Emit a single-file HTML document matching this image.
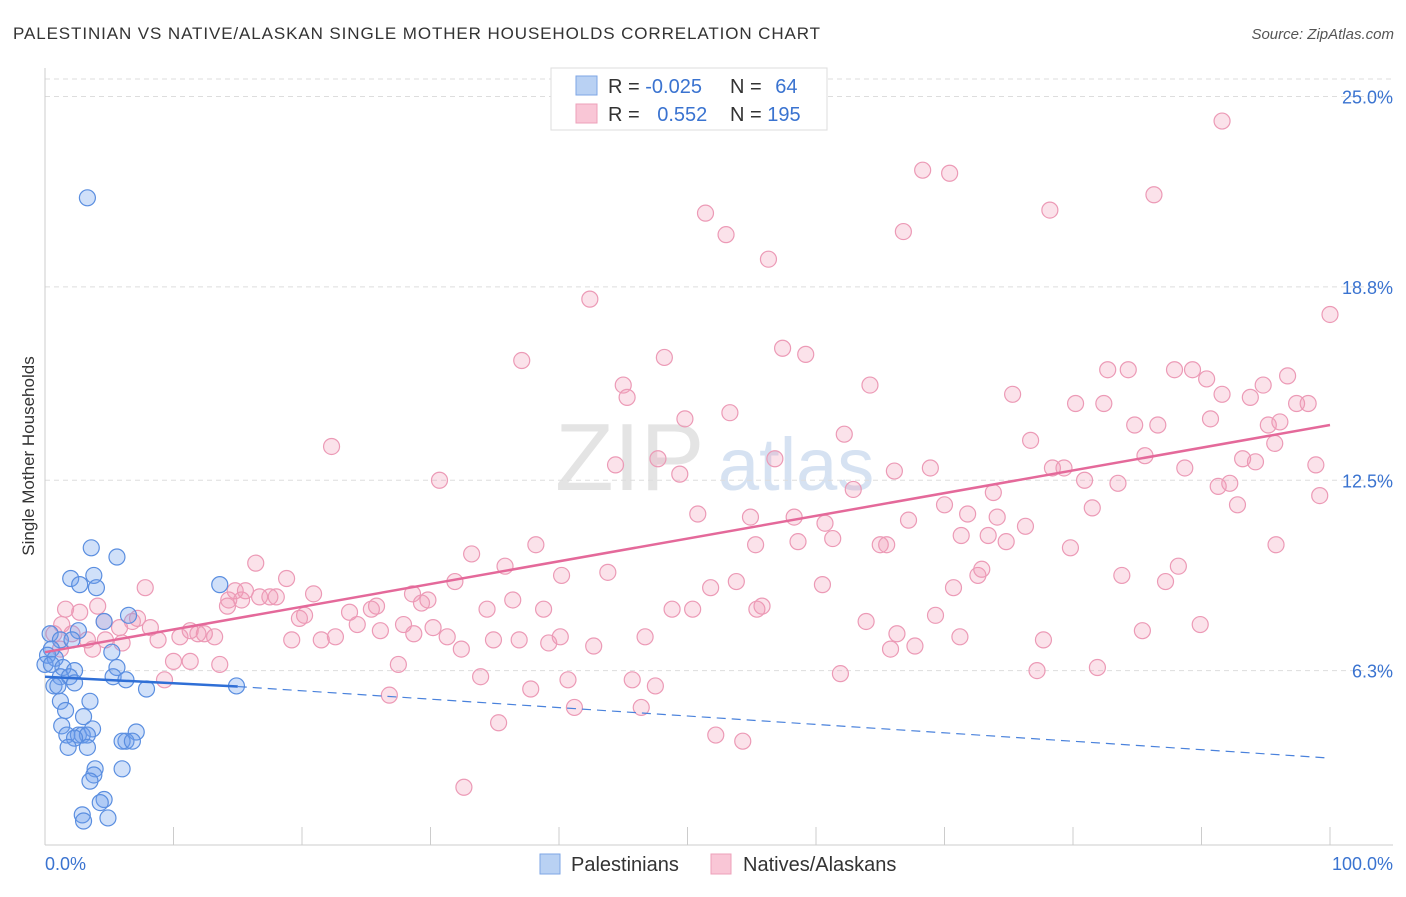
<!DOCTYPE html>
<html><head><meta charset="utf-8"><style>
body{margin:0;background:#fff;font-family:"Liberation Sans",sans-serif;}
svg text{font-family:"Liberation Sans",sans-serif;}
</style></head><body>
<svg id="chart" width="1406" height="892" xmlns="http://www.w3.org/2000/svg">
<text x="13" y="39" font-size="17" letter-spacing="0.9" fill="#333">PALESTINIAN VS NATIVE/ALASKAN SINGLE MOTHER HOUSEHOLDS CORRELATION CHART</text>
<text x="1394" y="39" font-size="15" fill="#555" text-anchor="end" font-style="italic">Source: ZipAtlas.com</text>
<text x="555" y="490" font-size="96" fill="#e4e4e4" font-family="Liberation Serif">ZIP</text>
<text x="718" y="490" font-size="74" fill="#d6e2f2">atlas</text>
<g id="grid"></g>
<g id="axes"></g>
<g id="pts"></g>
<g id="trends"></g>
<text transform="translate(34,456) rotate(-90)" font-size="17" fill="#333" text-anchor="middle">Single Mother Households</text>
<g>
<rect x="551" y="68" width="276" height="62" fill="#fff" stroke="#ddd"/>
<rect x="576" y="76" width="21" height="19" fill="#b9d1f3" stroke="#7ea6e4"/>
<rect x="576" y="104" width="21" height="19" fill="#f9c6d6" stroke="#eda0ba"/>
<text x="608" y="93" font-size="20" fill="#333">R = <tspan fill="#3a73d0">-0.025</tspan></text>
<text x="730" y="93" font-size="20" fill="#333">N = <tspan fill="#3a73d0" dx="8">64</tspan></text>
<text x="608" y="121" font-size="20" fill="#333">R = <tspan fill="#3a73d0" dx="12">0.552</tspan></text>
<text x="730" y="121" font-size="20" fill="#333">N = <tspan fill="#3a73d0">195</tspan></text>
</g>
<g>
<rect x="540" y="854" width="20" height="20" fill="#b9d1f3" stroke="#7ea6e4"/>
<text x="571" y="871" font-size="20" fill="#333">Palestinians</text>
<rect x="711" y="854" width="20" height="20" fill="#f9c6d6" stroke="#eda0ba"/>
<text x="743" y="871" font-size="20" fill="#333">Natives/Alaskans</text>
</g>
</svg>
<script>
const yTicks=[6.3,12.5,18.8,25.0];
const yTickLabels=["6.3%","12.5%","18.8%","25.0%"];
const xTickLabels=["0.0%","100.0%"];
const blueX=[3.3,3.6,5.6,2.0,3.8,2.7,4.0,13.6,6.5,4.6,2.6,0.4,1.2,2.1,0.5,0.2,0.8,5.2,0,0.5,1.4,2.3,5.6,1.2,1.9,5.3,6.3,0.7,1.0,2.3,7.9,14.9,3.5,1.2,1.6,3.0,1.3,3.7,1.7,2.6,2.9,3.3,2.3,7.1,6.3,6.0,6.8,1.8,3.3,6.0,3.9,3.8,3.5,4.6,4.3,2.9,3.0,4.9];
const blueY=[21.7,10.3,10.0,9.3,9.4,9.1,9.0,9.1,8.1,7.9,7.6,7.5,7.3,7.3,7.0,6.8,6.7,6.9,6.5,6.5,6.4,6.3,6.4,6.1,6.1,6.1,6.0,5.8,5.8,5.9,5.7,5.8,5.3,5.3,5.0,4.8,4.5,4.4,4.2,4.2,4.2,4.2,4.1,4.3,4.0,4.0,4.0,3.8,3.8,3.1,3.1,2.9,2.7,2.1,2.0,1.6,1.4,1.5];
const pinkX=[91.6,68.3,70.4,51.4,78.2,86.3,53.0,66.8,56.3,42.4,100,57.4,59.2,37.1,48.2,84.3,82.7,87.9,89.3,90.4,96.7,94.8,45.0,45.3,64.2,75.3,91.6,93.8,80.2,82.4,97.4,98.3,53.3,49.8,84.8,86.6,90.7,95.2,96.1,62.2,76.7,22.3,95.7,56.8,85.6,93.2,94.2,30.7,44.4,47.7,49.4,62.9,66.1,68.9,78.4,79.3,80.9,83.5,88.7,91.3,92.2,98.9,99.2,81.5,92.8,73.8,70.0,71.8,74.1,76.3,50.8,54.9,58.3,60.7,67.2,55.3,58.6,61.3,65.0,65.5,71.3,73.4,74.8,79.8,95.8,38.2,33.2,16.4,35.8,18.8,7.8,40.2,43.8,72.6,72.9,83.8,88.2,87.2,28.6,31.9,53.8,51.8,60.5,70.7,14.8,15.6,16.7,17.5,18.0,20.9,15.3,14.2,25.8,25.4,23.7,29.8,29.3,34.4,36.4,38.8,48.8,50.4,55.4,55.8,69.3,14.3,20.2,19.8,7.2,4.1,2.7,1.6,4.6,6.8,8.2,5.8,11.3,12.4,13.2,11.9,10.5,8.8,6.0,3.3,2.1,1.3,0.7,1.2,3.7,4.7,19.2,21.5,22.6,24.3,26.1,27.9,28.7,30.2,31.3,32.4,34.9,36.9,39.2,40.1,42.7,46.7,63.9,66.3,71.2,77.7,85.4,89.9,13.6,10.0,11.3,27.5,33.9,40.7,45.7,47.5,61.9,65.8,67.7,77.2,81.9,9.3,26.8,37.8,41.2,46.4,35.3,52.2,54.3,32.6];
const pinkY=[24.2,22.6,22.5,21.2,21.3,21.8,20.5,20.6,19.7,18.4,17.9,16.8,16.6,16.4,16.5,16.1,16.1,16.1,16.1,15.8,15.9,15.6,15.6,15.2,15.6,15.3,15.3,15.2,15.0,15.0,15.0,15.0,14.7,14.5,14.3,14.3,14.5,14.3,14.4,14.0,13.8,13.6,13.7,13.2,13.3,13.2,13.1,12.5,13.0,13.2,12.7,12.2,12.8,12.9,12.9,12.9,12.5,12.4,12.9,12.3,12.4,13.0,12.0,11.6,11.7,12.1,11.7,11.4,11.3,11.0,11.4,11.3,11.3,11.1,11.2,10.4,10.5,10.6,10.4,10.4,10.7,10.7,10.5,10.3,10.4,10.4,10.1,9.8,9.7,9.3,9.0,9.4,9.5,9.4,9.6,9.4,9.7,9.2,8.8,9.2,9.2,9.0,9.1,9.0,8.9,8.9,8.7,8.7,8.7,8.8,8.6,8.4,8.4,8.3,8.2,8.6,8.5,8.3,8.6,8.3,8.3,8.3,8.3,8.4,8.1,8.6,8.1,8.0,8.0,8.4,8.2,8.3,7.9,7.9,7.7,7.7,7.6,7.5,7.4,7.5,7.4,7.3,7.2,7.3,7.5,7.8,7.5,7.0,7.0,7.3,7.3,7.3,7.4,7.8,7.6,7.8,7.5,7.7,7.4,7.0,7.3,7.3,7.2,7.4,7.1,7.4,7.9,7.5,7.4,7.3,7.6,7.8,6.5,6.6,6.6,6.5,6.1,6.0,6.0,5.8,6.2,7.0,7.1,6.3,6.4,6.0,5.5,5.7,5.1,5.1,4.6,4.2,4.0,2.5];
const pinkTrendX=[0,100];
const pinkTrendY=[6.9,14.3];
const blueTrendX=[0,15,100];
const blueTrendY=[6.1,5.78,3.45];

const NS="http://www.w3.org/2000/svg";
const X0=45,X1=1330,Y0=864,PY=30.7;
const sx=v=>X0+(X1-X0)*v/100;
const sy=v=>Y0-v*PY;
function mk(tag,attrs,parent){const e=document.createElementNS(NS,tag);for(const k in attrs)e.setAttribute(k,attrs[k]);parent.appendChild(e);return e;}
const grid=document.getElementById('grid'),axes=document.getElementById('axes'),pts=document.getElementById('pts'),tr=document.getElementById('trends');
let gl=mk('line',{x1:45,x2:1393,y1:79,y2:79,stroke:'#ddd','stroke-dasharray':'5,4'},grid);


yTicks.forEach((t,i)=>{
  const l=mk('line',{x1:45,x2:1393,y1:sy(t),y2:sy(t),stroke:'#ddd','stroke-dasharray':'5,4'},grid);
  
  
  const tx=mk('text',{x:1393,y:sy(t)+7,'font-size':18,fill:'#3a73d0','text-anchor':'end'},axes);
  tx.textContent=yTickLabels[i];
  
  
});
let ya=mk('line',{x1:45,x2:45,y1:68,y2:845,stroke:'#ccc'},axes);


let xa=mk('line',{x1:45,x2:1393,y1:845,y2:845,stroke:'#ccc'},axes);


for(let k=0;k<=10;k++){
  const t=mk('line',{x1:sx(k*10),x2:sx(k*10),y1:827,y2:845,stroke:'#ccc'},axes);
  
  
}
let xl0=mk('text',{x:45,y:870,'font-size':18,fill:'#3a73d0'},axes);xl0.textContent=xTickLabels[0];


let xl1=mk('text',{x:1393,y:870,'font-size':18,fill:'#3a73d0','text-anchor':'end'},axes);xl1.textContent=xTickLabels[1];



pinkX.forEach((x,i)=>{
  const c=mk('circle',{cx:sx(x),cy:sy(pinkY[i]),r:8,fill:'rgba(242,150,180,0.28)',stroke:'#ec9ab6','stroke-width':1.2},pts);
  
  
});
blueX.forEach((x,i)=>{
  const c=mk('circle',{cx:sx(x),cy:sy(blueY[i]),r:8,fill:'rgba(110,160,235,0.32)',stroke:'#5a8ee0','stroke-width':1.2},pts);
  
  
});
let pl=mk('line',{x1:sx(pinkTrendX[0]),y1:sy(pinkTrendY[0]),x2:sx(pinkTrendX[1]),y2:sy(pinkTrendY[1]),stroke:'#e4699a','stroke-width':2.5},tr);


let bl=mk('line',{x1:sx(blueTrendX[0]),y1:sy(blueTrendY[0]),x2:sx(blueTrendX[1]),y2:sy(blueTrendY[1]),stroke:'#2f6fd6','stroke-width':2.5},tr);


let bd=mk('line',{x1:sx(blueTrendX[1]),y1:sy(blueTrendY[1]),x2:sx(blueTrendX[2]),y2:sy(blueTrendY[2]),stroke:'#4a82dc','stroke-width':1.2,'stroke-dasharray':'9,6'},tr);


</script>
</body></html>
